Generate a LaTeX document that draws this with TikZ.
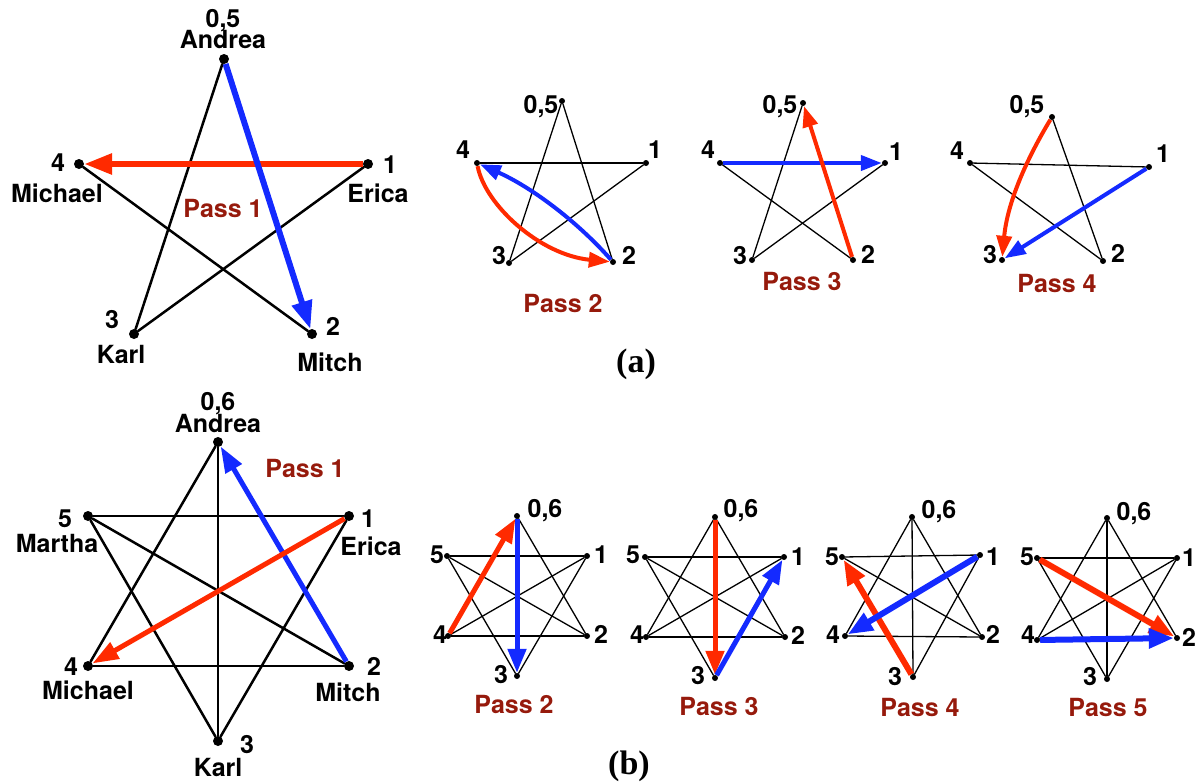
\documentclass[tikz,border=0pt]{standalone}
\usepackage{fontspec}
\setmainfont{TeX Gyre Heros}
\newfontfamily\capserif{Liberation Serif}
\usetikzlibrary{arrows.meta,backgrounds}
\definecolor{arrred}{RGB}{255,42,0}
\definecolor{arrblue}{RGB}{20,42,255}
\definecolor{passred}{RGB}{150,26,12}
\tikzset{
  bigdot/.style={circle, fill=black, inner sep=0pt, minimum size=10pt},
  smalldot/.style={circle, fill=black, inner sep=0pt, minimum size=6pt},
  lbl/.style={font=\fontsize{25}{30}\selectfont\bfseries, anchor=base, inner sep=0pt},
  passlbl/.style={lbl, text=passred},
  caplbl/.style={font=\fontsize{34}{40}\selectfont\capserif\bfseries, anchor=base, inner sep=0pt},
  edgebig/.style={line width=2.5pt, line cap=round},
  edgesmall/.style={line width=1.3pt, line cap=round},
  arrbig/.style={line width=6pt, -{Triangle[length=28pt,width=20pt]}},
  arrbigb/.style={line width=5pt, -{Triangle[length=26pt,width=18pt]}},
  arrsmall/.style={line width=4pt, -{Triangle[length=21pt,width=15pt]}},
  arrsmallb/.style={line width=5pt, -{Triangle[length=24pt,width=18pt]}},
  arrsmallc/.style={line width=6pt, -{Triangle[length=25pt,width=19pt]}},
}
\begin{document}
\begin{tikzpicture}[x=1pt,y=-1pt]
\useasboundingbox (0,0) rectangle (1198,782);

% ================= (a) big pentagram =================
\node[bigdot] (A0) at (224,59) {};
\node[bigdot] (A1) at (368,164) {};
\node[bigdot] (A4) at (79,164) {};
\node[bigdot] (A3) at (134,334) {};
\node[bigdot] (A2) at (312,334) {};
\begin{scope}[on background layer]
\draw[edgebig] (A0) -- (A3);
\draw[edgebig] (A3) -- (A1);
\draw[edgebig] (A4) -- (A2);
\draw[arrbig, arrred] (A1) -- (A4);
\draw[arrbig, arrblue] (A0) -- (A2);
\end{scope}
\node[lbl] (tA05) at (223,27) {0,5};
\node[lbl] (tAand) at (223,48) {Andrea};
\node[lbl] (tA4) at (58,171) {4};
\node[lbl] (tAmic) at (57,202) {Michael};
\node[lbl] (tA1) at (390,173) {1};
\node[lbl] (tAeri) at (378,202) {Erica};
\node[passlbl] (tApass) at (223,217) {Pass 1};
\node[lbl] (tA3) at (112,328) {3};
\node[lbl] (tAkar) at (121,363) {Karl};
\node[lbl] (tA2) at (333,335) {2};
\node[lbl] (tAmit) at (330,371) {Mitch};

% ================= (a) Pass 2 =================
\node[smalldot] (B0) at (562,101) {};
\node[smalldot] (B4) at (477,163) {};
\node[smalldot] (B1) at (646,163) {};
\node[smalldot] (B3) at (509,263) {};
\node[smalldot] (B2) at (613,262) {};
\begin{scope}[on background layer]
\draw[edgesmall] (B0) -- (B3);
\draw[edgesmall] (B0) -- (B2);
\draw[edgesmall] (B3) -- (B1);
\draw[edgesmall] (B4) -- (B1);
\draw[arrsmall, arrred] (B4) .. controls (485,205) and (540,255) .. (B2);
\draw[arrsmall, arrblue] (B2) .. controls (575,219) and (529,186) .. (B4);
\end{scope}
\node[lbl] (tB0) at (541,113) {0,5};
\node[lbl] (tB4) at (463,158) {4};
\node[lbl] (tB1) at (655,158) {1};
\node[lbl] (tB3) at (499,264) {3};
\node[lbl] (tB2) at (629,264) {2};
\node[passlbl] (tBpass) at (563,312) {Pass 2};

% ================= (a) Pass 3 =================
\node[smalldot] (C0) at (803,103) {};
\node[smalldot] (C4) at (720,163) {};
\node[smalldot] (C1) at (885,163) {};
\node[smalldot] (C3) at (752,260) {};
\node[smalldot] (C2) at (853,260) {};
\begin{scope}[on background layer]
\draw[edgesmall] (C0) -- (C3);
\draw[edgesmall] (C3) -- (C1);
\draw[edgesmall] (C4) -- (C2);
\draw[arrsmall, arrblue] (C4) -- (C1);
\draw[arrsmall, arrred] (C2) -- (C0);
\end{scope}
\node[lbl] (tC0) at (780,113) {0,5};
\node[lbl] (tC4) at (708,158) {4};
\node[lbl] (tC1) at (896,160) {1};
\node[lbl] (tC3) at (740,264) {3};
\node[lbl] (tC2) at (868,263) {2};
\node[passlbl] (tCpass) at (802,290) {Pass 3};

% ================= (a) Pass 4 =================
\node[smalldot] (D0) at (1052,117) {};
\node[smalldot] (D4) at (970,163) {};
\node[smalldot] (D1) at (1149,167) {};
\node[smalldot] (D3) at (1002,260) {};
\node[smalldot] (D2) at (1103,261) {};
\begin{scope}[on background layer]
\draw[edgesmall] (D0) -- (D2);
\draw[edgesmall] (D4) -- (D1);
\draw[edgesmall] (D4) -- (D2);
\draw[arrsmall, arrred] (D0) .. controls (1035,145) and (1008,195) .. (D3);
\draw[arrsmall, arrblue] (D1) -- (D3);
\end{scope}
\node[lbl] (tD0) at (1027,113) {0,5};
\node[lbl] (tD4) at (957,159) {4};
\node[lbl] (tD1) at (1163,162) {1};
\node[lbl] (tD3) at (990,263) {3};
\node[lbl] (tD2) at (1118,262) {2};
\node[passlbl] (tDpass) at (1057,292) {Pass 4};

\node[caplbl] (capa) at (636,372) {(a)};

% ================= (b) big hexagram =================
\node[bigdot] (E0) at (218,442) {};
\node[bigdot] (E1) at (349,516) {};
\node[bigdot] (E5) at (88,516) {};
\node[bigdot] (E4) at (88,666) {};
\node[bigdot] (E2) at (349,666) {};
\node[bigdot] (E3) at (218,741) {};
\begin{scope}[on background layer]
\draw[edgebig] (E0) -- (E4);
\draw[edgebig] (E0) -- (E3);
\draw[edgebig] (E5) -- (E1);
\draw[edgebig] (E5) -- (E2);
\draw[edgebig] (E5) -- (E3);
\draw[edgebig] (E4) -- (E2);
\draw[edgebig] (E1) -- (E3);
\draw[arrbigb, arrblue] (E2) -- (E0);
\draw[arrbigb, arrred] (E1) -- (E4);
\end{scope}
\node[lbl] (tE0) at (218,410) {0,6};
\node[lbl] (tEand) at (218,432) {Andrea};
\node[passlbl] (tEpass) at (305,477) {Pass 1};
\node[lbl] (tE5) at (65,527) {5};
\node[lbl] (tEmar) at (57,552) {Martha};
\node[lbl] (tE1) at (368,527) {1};
\node[lbl] (tEeri) at (371,555) {Erica};
\node[lbl] (tE4) at (71,675) {4};
\node[lbl] (tEmic) at (88,699) {Michael};
\node[lbl] (tE2) at (374,675) {2};
\node[lbl] (tEmit) at (348,701) {Mitch};
\node[lbl] (tE3) at (247,753) {3};
\node[lbl] (tEkar) at (218,776) {Karl};

% ================= (b) Pass 2 =================
\node[smalldot] (F0) at (517,516) {};
\node[smalldot] (F5) at (447,556) {};
\node[smalldot] (F1) at (587,556) {};
\node[smalldot] (F4) at (448,636) {};
\node[smalldot] (F2) at (587,636) {};
\node[smalldot] (F3) at (517,676) {};
\begin{scope}[on background layer]
\draw[edgesmall] (F0) -- (F2);
\draw[edgesmall] (F5) -- (F1);
\draw[edgesmall] (F5) -- (F2);
\draw[edgesmall] (F5) -- (F3);
\draw[edgesmall] (F4) -- (F2);
\draw[edgesmall] (F4) -- (F1);
\draw[edgesmall] (F1) -- (F3);
\draw[arrsmallb, arrred] (F4) -- (F0);
\draw[arrsmallb, arrblue] (F0) -- (F3);
\end{scope}
\node[lbl] (tF0) at (545,517) {0,6};
\node[lbl] (tF5) at (437,563) {5};
\node[lbl] (tF1) at (601,563) {1};
\node[lbl] (tF4) at (440,643) {4};
\node[lbl] (tF2) at (601,643) {2};
\node[lbl] (tF3) at (501,683) {3};
\node[passlbl] (tFpass) at (514,713) {Pass 2};

% ================= (b) Pass 3 =================
\node[smalldot] (G0) at (715,517) {};
\node[smalldot] (G5) at (645,557) {};
\node[smalldot] (G1) at (784,557) {};
\node[smalldot] (G4) at (646,637) {};
\node[smalldot] (G2) at (785,637) {};
\node[smalldot] (G3) at (715,678) {};
\begin{scope}[on background layer]
\draw[edgesmall] (G0) -- (G4);
\draw[edgesmall] (G0) -- (G2);
\draw[edgesmall] (G5) -- (G1);
\draw[edgesmall] (G5) -- (G2);
\draw[edgesmall] (G5) -- (G3);
\draw[edgesmall] (G4) -- (G2);
\draw[edgesmall] (G4) -- (G1);
\draw[arrsmallb, arrred] (G0) -- (G3);
\draw[arrsmallb, arrblue] (G3) -- (G1);
\end{scope}
\node[lbl] (tG0) at (741,517) {0,6};
\node[lbl] (tG5) at (633,563) {5};
\node[lbl] (tG1) at (798,565) {1};
\node[lbl] (tG4) at (637,643) {4};
\node[lbl] (tG2) at (798,644) {2};
\node[lbl] (tG3) at (698,684) {3};
\node[passlbl] (tGpass) at (719,715) {Pass 3};

% ================= (b) Pass 4 =================
\node[smalldot] (H0) at (912,517) {};
\node[smalldot] (H5) at (842,557) {};
\node[smalldot] (H1) at (980,555) {};
\node[smalldot] (H4) at (845,636) {};
\node[smalldot] (H2) at (982,637) {};
\node[smalldot] (H3) at (913,677) {};
\begin{scope}[on background layer]
\draw[edgesmall] (H0) -- (H4);
\draw[edgesmall] (H0) -- (H2);
\draw[edgesmall] (H0) -- (H3);
\draw[edgesmall] (H5) -- (H1);
\draw[edgesmall] (H5) -- (H2);
\draw[edgesmall] (H4) -- (H2);
\draw[edgesmall] (H1) -- (H3);
\draw[arrsmallc, arrred] (H3) -- (H5);
\draw[arrsmallc, arrblue] (H1) -- (H4);
\end{scope}
\node[lbl] (tH0) at (939,518) {0,6};
\node[lbl] (tH5) at (832,565) {5};
\node[lbl] (tH1) at (993,565) {1};
\node[lbl] (tH4) at (833,643) {4};
\node[lbl] (tH2) at (993,643) {2};
\node[lbl] (tH3) at (895,685) {3};
\node[passlbl] (tHpass) at (920,716) {Pass 4};

% ================= (b) Pass 5 =================
\node[smalldot] (I0) at (1107,518) {};
\node[smalldot] (I5) at (1037,558) {};
\node[smalldot] (I1) at (1177,558) {};
\node[smalldot] (I4) at (1037,640) {};
\node[smalldot] (I2) at (1177,638) {};
\node[smalldot] (I3) at (1107,679) {};
\begin{scope}[on background layer]
\draw[edgesmall] (I0) -- (I4);
\draw[edgesmall] (I0) -- (I2);
\draw[edgesmall] (I0) -- (I3);
\draw[edgesmall] (I5) -- (I1);
\draw[edgesmall] (I5) -- (I3);
\draw[edgesmall] (I4) -- (I1);
\draw[edgesmall] (I1) -- (I3);
\draw[arrsmallc, arrred] (I5) -- (I2);
\draw[arrsmallc, arrblue] (I4) -- (I2);
\end{scope}
\node[lbl] (tI0) at (1134,520) {0,6};
\node[lbl] (tI5) at (1027,565) {5};
\node[lbl] (tI1) at (1189,566) {1};
\node[lbl] (tI4) at (1028,643) {4};
\node[lbl] (tI2) at (1189,646) {2};
\node[lbl] (tI3) at (1090,685) {3};
\node[passlbl] (tIpass) at (1108,716) {Pass 5};

\node[caplbl] (capb) at (629,774) {(b)};
\end{tikzpicture}
\end{document}
